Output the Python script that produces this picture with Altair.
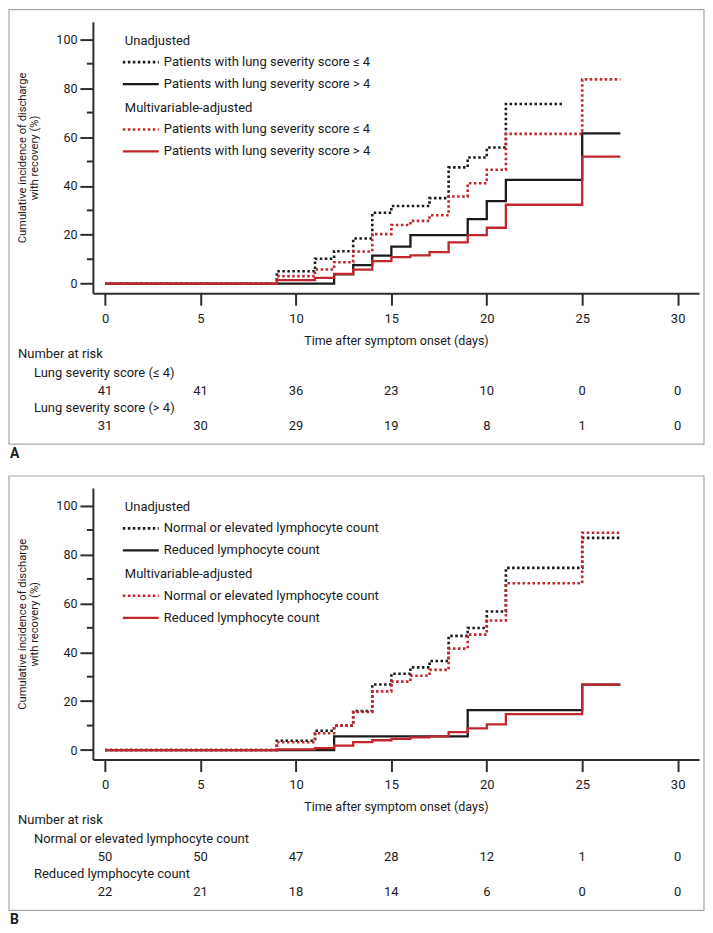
import altair as alt
import pandas as pd

FONT = "Roboto"
BLACK = "#1b1b1b"
RED = "#c1272d"
AXIS = "#2e2e2e"
FRAME = "#a6a6a6"

W, H = 607, 272
X_DOMAIN = [-0.64, 31.12]
Y_DOMAIN = [-3.9, 107.2]
X_TICKS = [0, 5, 10, 15, 20, 25, 30]
Y_TICKS = [0, 20, 40, 60, 80, 100]
Y_MINOR = [10, 30, 50, 70, 90]

# ---------------- Panel A data ----------------
a_unadj_le4_days = [0, 9, 11, 12, 13, 14, 15, 17, 18, 19, 20, 21, 24]
a_unadj_le4_vals = [0, 5.1, 10.2, 13.3, 18.5, 29.0, 31.8, 35.0, 47.6, 51.6, 55.7, 73.5, 73.5]
a_unadj_gt4_days = [0, 12, 13, 14, 15, 16, 19, 20, 21, 25, 27]
a_unadj_gt4_vals = [0, 3.8, 7.6, 11.5, 15.2, 19.9, 26.4, 33.8, 42.5, 61.5, 61.5]
a_adj_le4_days = [0, 9, 11, 12, 13, 14, 15, 16, 17, 18, 19, 20, 21, 25, 27]
a_adj_le4_vals = [0, 3.1, 5.8, 8.8, 13.2, 20.3, 24.0, 25.7, 28.0, 35.7, 41.1, 46.6, 61.3, 83.6, 83.6]
a_adj_gt4_days = [0, 9, 11, 12, 13, 14, 15, 16, 17, 18, 19, 20, 21, 25, 27]
a_adj_gt4_vals = [0, 1.5, 2.4, 4.0, 5.8, 9.2, 10.9, 11.6, 12.9, 16.9, 19.9, 22.9, 32.3, 52.0, 52.0]

a_legend_le = "Patients with lung severity score \u2264 4"
a_legend_gt = "Patients with lung severity score > 4"
a_risk_groups = ["Lung severity score (\u2264 4)", "Lung severity score (> 4)"]
a_risk_le4 = [41, 41, 36, 23, 10, 0, 0]
a_risk_gt4 = [31, 30, 29, 19, 8, 1, 0]

# ---------------- Panel B data ----------------
b_unadj_norm_days = [0, 9, 11, 12, 13, 14, 15, 16, 17, 18, 19, 20, 21, 25, 27]
b_unadj_norm_vals = [0, 3.8, 7.9, 10.0, 16.0, 26.8, 31.2, 33.8, 36.4, 46.7, 49.9, 56.7, 74.5, 86.8, 86.8]
b_unadj_red_days = [0, 12, 19, 25, 27]
b_unadj_red_vals = [0, 5.6, 16.3, 26.8, 26.8]
b_adj_norm_days = [0, 9, 11, 12, 13, 14, 15, 16, 17, 18, 19, 20, 21, 25, 27]
b_adj_norm_vals = [0, 3.2, 6.9, 10.0, 15.6, 24.0, 28.0, 30.4, 32.8, 41.5, 47.2, 53.0, 68.2, 88.9, 88.9]
b_adj_red_days = [0, 9, 11, 12, 13, 14, 15, 16, 17, 18, 19, 20, 21, 25, 27]
b_adj_red_vals = [0, 0.3, 0.8, 1.8, 3.2, 4.0, 4.6, 5.2, 5.6, 7.3, 8.9, 10.5, 14.7, 26.8, 26.8]

b_legend_le = "Normal or elevated lymphocyte count"
b_legend_gt = "Reduced lymphocyte count"
b_risk_groups = ["Normal or elevated lymphocyte count", "Reduced lymphocyte count"]
b_risk_norm = [50, 50, 47, 28, 12, 1, 0]
b_risk_red = [22, 21, 18, 14, 6, 0, 0]

risk_days = [0, 5, 10, 15, 20, 25, 30]
legend_headers = ["Unadjusted", "Multivariable-adjusted"]

# layout (pixels relative to plot area)
LEG_Y = [19, 40.5, 62.5, 86, 108, 130]
ROW_Y = {"nar": H + 61, "g1": H + 80, "r1": H + 97.5, "g2": H + 114.5, "r2": H + 133}


def x_enc():
    return alt.X(
        "day:Q",
        scale=alt.Scale(domain=X_DOMAIN, nice=False, zero=False),
        axis=alt.Axis(
            values=X_TICKS, title="Time after symptom onset (days)", tickSize=12,
            labelPadding=7, titlePadding=9, labelFlush=False, format="d",
            labelFontSize=13, titleFontSize=12.5,
        ),
    )


def y_enc():
    return alt.Y(
        "value:Q",
        scale=alt.Scale(domain=Y_DOMAIN, nice=False, zero=False),
        axis=alt.Axis(
            values=Y_TICKS,
            title=["Cumulative incidence of discharge", "with recovery (%)"],
            tickSize=13, labelPadding=3, titlePadding=16, titleLineHeight=12.5, format="d",
            labelFontSize=12.5, titleFontSize=11.2,
        ),
    )


def step_layer(days, vals, color, dotted):
    df = pd.DataFrame({"day": days, "value": vals})
    kw = dict(interpolate="step-after", color=color, strokeCap="butt", clip=False)
    if dotted:
        kw.update(strokeWidth=2.6, strokeDash=[2.5, 2.5])
    else:
        kw.update(strokeWidth=2.3)
    return alt.Chart(df).mark_line(**kw).encode(x=x_enc(), y=y_enc())


def text_layer(labels, ys, x_px, size=13, weight="normal"):
    df = pd.DataFrame({"label": labels, "py": ys})
    return alt.Chart(df).mark_text(
        align="left", baseline="middle", font=FONT, fontSize=size, fontWeight=weight, color=BLACK
    ).encode(x=alt.value(x_px), y=alt.Y("py:Q", scale=None), text="label:N")


def legend_sample(py, color, dotted):
    df = pd.DataFrame({"py": [py]})
    kw = dict(color=color, strokeCap="butt")
    if dotted:
        kw.update(strokeWidth=2.6, strokeDash=[2.5, 2.5])
    else:
        kw.update(strokeWidth=2.3)
    return alt.Chart(df).mark_rule(**kw).encode(
        x=alt.value(30), x2=alt.value(66), y=alt.Y("py:Q", scale=None)
    )


def risk_row(counts, py):
    df = pd.DataFrame({"day": risk_days, "count": counts, "py": [py] * len(counts)})
    return alt.Chart(df).mark_text(
        align="center", baseline="middle", font=FONT, fontSize=13, color=BLACK
    ).encode(x=x_enc(), y=alt.Y("py:Q", scale=None), text="count:N")


def panel(series, legend_le, legend_gt, risk_groups, risk1, risk2, letter):
    layers = []
    # frame
    layers.append(
        alt.Chart(pd.DataFrame({"f": [1]})).mark_rect(
            fillOpacity=0, stroke=FRAME, strokeWidth=1.2
        ).encode(x=alt.value(-84), x2=alt.value(W + 5), y=alt.value(-12), y2=alt.value(H + 151))
    )
    # minor y ticks
    layers.append(
        alt.Chart(pd.DataFrame({"value": Y_MINOR})).mark_rule(color=AXIS, strokeWidth=2).encode(
            y=y_enc(), x=alt.value(-6), x2=alt.value(0)
        )
    )
    for days, vals, color, dotted in series:
        layers.append(step_layer(days, vals, color, dotted))
    # legend
    layers.append(text_layer(legend_headers, [LEG_Y[0], LEG_Y[3]], 32, size=13))
    layers.append(text_layer([legend_le, legend_gt, legend_le, legend_gt],
                             [LEG_Y[1], LEG_Y[2], LEG_Y[4], LEG_Y[5]], 71, size=13))
    layers.append(legend_sample(LEG_Y[1], BLACK, True))
    layers.append(legend_sample(LEG_Y[2], BLACK, False))
    layers.append(legend_sample(LEG_Y[4], RED, True))
    layers.append(legend_sample(LEG_Y[5], RED, False))
    # number at risk table
    layers.append(text_layer(["Number at risk"], [ROW_Y["nar"]], -75))
    layers.append(text_layer(risk_groups, [ROW_Y["g1"], ROW_Y["g2"]], -59))
    layers.append(risk_row(risk1, ROW_Y["r1"]))
    layers.append(risk_row(risk2, ROW_Y["r2"]))
    # panel letter
    layers.append(text_layer([letter], [H + 161], -83, size=14, weight="bold"))
    return alt.layer(*layers).properties(width=W, height=H)


panel_a = panel(
    [
        (a_unadj_le4_days, a_unadj_le4_vals, BLACK, True),
        (a_unadj_gt4_days, a_unadj_gt4_vals, BLACK, False),
        (a_adj_le4_days, a_adj_le4_vals, RED, True),
        (a_adj_gt4_days, a_adj_gt4_vals, RED, False),
    ],
    a_legend_le, a_legend_gt, a_risk_groups, a_risk_le4, a_risk_gt4, "A",
)

panel_b = panel(
    [
        (b_unadj_norm_days, b_unadj_norm_vals, BLACK, True),
        (b_unadj_red_days, b_unadj_red_vals, BLACK, False),
        (b_adj_norm_days, b_adj_norm_vals, RED, True),
        (b_adj_red_days, b_adj_red_vals, RED, False),
    ],
    b_legend_le, b_legend_gt, b_risk_groups, b_risk_norm, b_risk_red, "B",
)

chart = (
    alt.vconcat(panel_a, panel_b, spacing=14)
    .properties(padding=0)
    .configure_view(stroke=None)
    .configure_axis(
        labelFont=FONT, titleFont=FONT, labelColor=BLACK, titleColor=BLACK,
        titleFontWeight="normal",
        domainColor=AXIS, tickColor=AXIS, domainWidth=2, tickWidth=2, grid=False,
    )
)

chart.save("out.html", embed_options={"renderer": "svg", "actions": False})
